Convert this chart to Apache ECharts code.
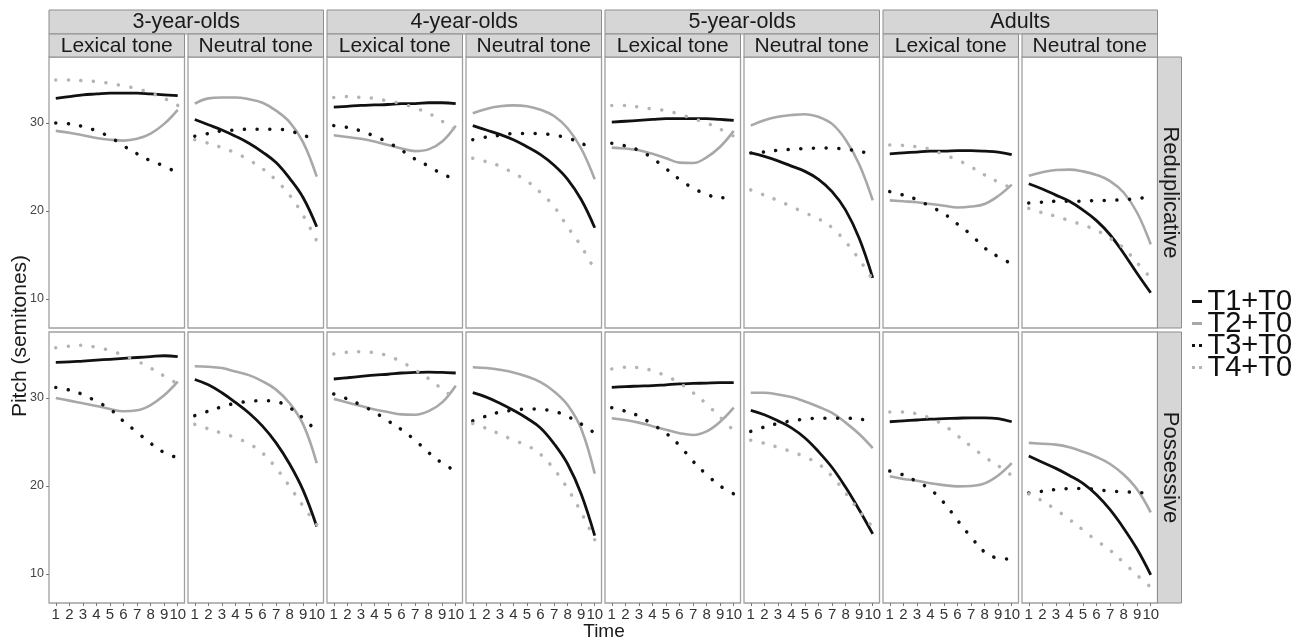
<!DOCTYPE html>
<html>
<head>
<meta charset="utf-8">
<script src="https://cdn.jsdelivr.net/npm/echarts@6/dist/echarts.min.js"></script>
<style>
html,body{margin:0;padding:0;background:#fff;}
#chart{width:1296px;height:642px;}
</style>
</head>
<body>
<div id="chart"></div>
<script>
// ---------- labels ----------
const ages = ['3-year-olds', '4-year-olds', '5-year-olds', 'Adults'];
const tones = ['Lexical tone', 'Neutral tone'];
const constructions = ['Reduplicative', 'Possessive'];
const times = ['1', '2', '3', '4', '5', '6', '7', '8', '9', '10'];
const yTicks = [10, 20, 30];
const seriesNames = ['T1+T0', 'T2+T0', 'T3+T0', 'T4+T0'];

// ---------- data: each panel = [T1+T0, T2+T0, T3+T0, T4+T0] ----------
// Reduplicative
const red3Lex = [
  [32.8, 33.0, 33.2, 33.3, 33.4, 33.4, 33.4, 33.3, 33.2, 33.1],
  [29.1, 28.9, 28.6, 28.3, 28.1, 28.0, 28.2, 28.8, 29.9, 31.5],
  [30.0, 29.9, 29.6, 29.1, 28.4, 27.4, 26.5, 25.7, 25.1, 24.3],
  [34.9, 34.9, 34.8, 34.7, 34.5, 34.2, 33.9, 33.4, 32.8, 32.0]
];
const red3Neu = [
  [30.4, 29.8, 29.2, 28.5, 27.7, 26.7, 25.5, 23.7, 21.5, 18.2],
  [32.2, 32.8, 32.9, 32.9, 32.7, 32.3, 31.4, 30.1, 27.8, 23.9],
  [28.5, 28.8, 29.1, 29.2, 29.3, 29.3, 29.3, 29.1, 28.6, 28.1],
  [28.1, 27.7, 27.2, 26.6, 25.8, 24.8, 23.5, 21.8, 19.5, 16.6]
];
const red4Lex = [
  [31.8, 31.9, 32.0, 32.05, 32.1, 32.2, 32.2, 32.3, 32.3, 32.2],
  [28.6, 28.4, 28.2, 27.9, 27.5, 27.1, 26.8, 27.0, 27.9, 29.7],
  [29.7, 29.5, 29.1, 28.5, 27.8, 26.9, 25.9, 25.1, 24.2, 23.6],
  [32.9, 33.0, 32.9, 32.8, 32.5, 32.2, 31.7, 31.1, 30.2, 29.2]
];
const red4Neu = [
  [29.7, 29.2, 28.7, 28.1, 27.3, 26.4, 25.2, 23.6, 21.3, 18.1],
  [31.1, 31.6, 31.9, 32.0, 31.9, 31.5, 30.8, 29.4, 27.1, 23.6],
  [28.1, 28.4, 28.6, 28.8, 28.8, 28.8, 28.6, 28.3, 27.7, 27.0],
  [26.0, 25.6, 25.1, 24.3, 23.4, 22.1, 20.5, 18.2, 16.0, 13.3]
];
const red5Lex = [
  [30.1, 30.2, 30.3, 30.4, 30.5, 30.5, 30.5, 30.5, 30.4, 30.3],
  [27.2, 27.1, 26.9, 26.5, 26.0, 25.5, 25.45, 26.1, 27.3, 29.1],
  [27.7, 27.4, 26.9, 26.0, 24.8, 23.6, 22.6, 21.9, 21.5, 21.6],
  [32.0, 32.0, 31.8, 31.6, 31.4, 31.0, 30.5, 30.0, 29.3, 28.5]
];
const red5Neu = [
  [26.6, 26.2, 25.7, 25.1, 24.5, 23.6, 22.2, 20.1, 16.9, 12.4],
  [29.7, 30.3, 30.7, 30.9, 31.0, 30.7, 29.9, 28.1, 25.3, 21.2],
  [26.6, 26.7, 26.9, 27.0, 27.1, 27.15, 27.15, 27.0, 26.8, 26.4],
  [22.4, 21.8, 21.2, 20.5, 19.8, 19.1, 18.1, 16.5, 14.5, 12.2]
];
const redAdLex = [
  [26.5, 26.6, 26.7, 26.8, 26.8, 26.85, 26.85, 26.8, 26.7, 26.4],
  [21.2, 21.1, 21.0, 20.8, 20.6, 20.4, 20.5, 20.8, 21.7, 23.0],
  [22.2, 21.8, 21.3, 20.5, 19.7, 18.5, 17.3, 15.8, 14.8, 14.0],
  [27.5, 27.45, 27.3, 27.0, 26.4, 25.8, 25.0, 24.1, 23.3, 22.6]
];
const redAdNeu = [
  [23.1, 22.5, 21.8, 21.1, 20.1, 18.9, 17.3, 15.2, 12.9, 10.7],
  [24.0, 24.4, 24.65, 24.7, 24.5, 24.1, 23.4, 22.1, 19.8, 16.2],
  [20.9, 21.0, 21.1, 21.1, 21.1, 21.2, 21.2, 21.3, 21.4, 21.65],
  [20.3, 19.8, 19.4, 18.9, 18.4, 17.8, 16.9, 15.8, 14.1, 12.4]
];
// Possessive
const pos3Lex = [
  [34.05, 34.1, 34.2, 34.3, 34.4, 34.5, 34.6, 34.7, 34.8, 34.7],
  [30.0, 29.7, 29.4, 29.1, 28.75, 28.5, 28.6, 29.2, 30.3, 31.85],
  [31.2, 30.9, 30.4, 29.6, 28.75, 27.35, 26.1, 24.85, 23.8, 23.2],
  [35.7, 35.9, 36.0, 35.75, 35.4, 34.85, 34.2, 33.4, 32.5, 31.6]
];
const pos3Neu = [
  [32.1, 31.5, 30.6, 29.5, 28.3, 26.8, 24.9, 22.5, 19.5, 15.4],
  [33.6, 33.55, 33.4, 33.0, 32.6, 31.9, 30.95, 29.4, 27.0, 22.6],
  [28.0, 28.5, 29.0, 29.4, 29.6, 29.7, 29.6, 28.9, 27.7, 26.2],
  [27.0, 26.5, 26.0, 25.5, 24.8, 23.75, 22.05, 19.95, 17.7, 15.6]
];
const pos4Lex = [
  [32.16, 32.3, 32.45, 32.6, 32.7, 32.84, 32.9, 32.95, 32.9, 32.84],
  [29.9, 29.5, 29.1, 28.7, 28.4, 28.14, 28.1, 28.5, 29.5, 31.4],
  [30.45, 29.9, 29.2, 28.4, 27.4, 26.4, 25.2, 23.8, 22.6, 21.7],
  [35.0, 35.2, 35.26, 35.15, 34.8, 34.1, 33.2, 32.2, 31.0, 29.9]
];
const pos4Neu = [
  [30.6, 30.1, 29.4, 28.6, 27.7, 26.6, 24.8, 22.5, 19.1, 14.35],
  [33.5, 33.4, 33.2, 32.9, 32.45, 31.8, 30.75, 29.2, 26.5, 21.4],
  [27.4, 27.95, 28.4, 28.6, 28.75, 28.7, 28.5, 27.9, 27.05, 26.0],
  [27.1, 26.55, 25.9, 25.2, 24.6, 23.6, 21.9, 19.7, 17.0, 13.9]
];
const pos5Lex = [
  [31.2, 31.3, 31.35, 31.4, 31.5, 31.6, 31.65, 31.7, 31.75, 31.75],
  [27.7, 27.5, 27.2, 26.8, 26.4, 26.0, 25.8, 26.2, 27.3, 28.9],
  [28.9, 28.5, 27.95, 27.0, 26.0, 24.6, 22.8, 21.3, 20.0, 19.1],
  [33.3, 33.5, 33.45, 33.1, 32.5, 31.7, 30.6, 29.3, 27.8, 26.3]
];
const pos5Neu = [
  [28.6, 28.1, 27.4, 26.6, 25.45, 23.9, 22.1, 19.85, 17.3, 14.55],
  [30.6, 30.6, 30.4, 30.1, 29.6, 29.0, 28.3, 27.2, 25.9, 24.3],
  [26.2, 26.7, 27.1, 27.4, 27.6, 27.7, 27.7, 27.7, 27.6, 27.35],
  [25.2, 24.85, 24.4, 23.9, 23.3, 22.5, 21.1, 19.2, 17.2, 15.3]
];
const posAdLex = [
  [27.3, 27.4, 27.5, 27.6, 27.65, 27.7, 27.75, 27.75, 27.65, 27.3],
  [21.1, 20.8, 20.6, 20.3, 20.1, 19.95, 20.0, 20.3, 21.2, 22.6],
  [21.7, 21.25, 20.5, 19.6, 18.1, 16.1, 14.2, 12.5, 11.8, 11.7],
  [28.4, 28.4, 28.2, 27.7, 26.9, 25.7, 24.5, 23.3, 22.3, 21.2]
];
const posAdNeu = [
  [23.4, 22.7, 22.0, 21.2, 20.3, 19.0, 17.3, 15.2, 12.8, 9.9],
  [24.9, 24.8, 24.7, 24.4, 23.9, 23.3, 22.5, 21.3, 19.6, 17.0],
  [19.2, 19.4, 19.6, 19.7, 19.7, 19.6, 19.4, 19.35, 19.25, 19.2],
  [19.1, 18.3, 17.3, 16.2, 15.0, 13.8, 12.7, 11.3, 9.85, 8.5]
];

const panels = [
  [red3Lex, red3Neu, red4Lex, red4Neu, red5Lex, red5Neu, redAdLex, redAdNeu],
  [pos3Lex, pos3Neu, pos4Lex, pos4Neu, pos5Lex, pos5Neu, posAdLex, posAdNeu]
];

// ---------- layout / style ----------
const FONT = '"Liberation Sans", Arial, Helvetica, sans-serif';
const colLeft = c => 49 + 139 * c;
const colW = 135.5;
const rowTop = [57, 332];
const rowH = 271;
const yMin = 6.7, yMax = 37.5;
const stripFill = '#d6d6d6', stripStroke = '#8d8d8d';
const lineStyles = [
  { color: '#111111', width: 2.8 },
  { color: '#a8a8a8', width: 2.6 },
  { color: '#111111', width: 3.5, type: [0.1, 12.5], cap: 'round' },
  { color: '#b4b4b4', width: 3.5, type: [0.1, 12.5], cap: 'round' }
];

const grids = [], xAxes = [], yAxes = [], series = [];
for (let r = 0; r < 2; r++) {
  for (let c = 0; c < 8; c++) {
    const idx = r * 8 + c;
    grids.push({
      left: colLeft(c), top: rowTop[r], width: colW, height: rowH,
      show: true, backgroundColor: '#ffffff', borderColor: '#a0a0a0', borderWidth: 1.3
    });
    xAxes.push({
      type: 'category', gridIndex: idx, data: times, boundaryGap: true,
      axisLine: { show: false },
      axisTick: { show: r === 1, alignWithLabel: true, length: 3, lineStyle: { color: '#777' } },
      axisLabel: { show: r === 1, interval: 0, fontSize: 15, color: '#333', margin: 4, fontFamily: FONT },
      splitLine: { show: false }
    });
    yAxes.push({
      type: 'value', gridIndex: idx, min: yMin, max: yMax,
      axisLine: { show: false }, splitLine: { show: false },
      axisTick: { show: c === 0, length: 3, customValues: yTicks, lineStyle: { color: '#777' } },
      axisLabel: { show: c === 0, customValues: yTicks, fontSize: 12.5, color: '#444', margin: 5, fontFamily: FONT }
    });
    for (let s = 0; s < 4; s++) {
      series.push({
        type: 'line', name: seriesNames[s],
        xAxisIndex: idx, yAxisIndex: idx,
        data: panels[r][c][s],
        smooth: 0.4, showSymbol: false, symbol: 'none', silent: true,
        lineStyle: Object.assign({}, lineStyles[s]),
        itemStyle: { color: lineStyles[s].color },
        z: 2 + s
      });
    }
  }
}

// ---------- strips and titles ----------
const graphics = [];
function txt(x, y, text, size, rot) {
  return {
    type: 'text', x: x, y: y, rotation: rot || 0, silent: true, z: 10,
    style: {
      text: text, fontSize: size, fontFamily: FONT, fill: '#1a1a1a',
      align: 'center', verticalAlign: 'middle', textAlign: 'center', textVerticalAlign: 'middle'
    }
  };
}
function rect(x, y, w, h) {
  return {
    type: 'rect', silent: true, z: 5,
    shape: { x: x, y: y, width: w, height: h },
    style: { fill: stripFill, stroke: stripStroke, lineWidth: 1 }
  };
}
for (let g = 0; g < 4; g++) {
  const x0 = colLeft(2 * g), x1 = colLeft(2 * g + 1) + colW;
  graphics.push(rect(x0, 10, x1 - x0, 24));
  graphics.push(txt((x0 + x1) / 2, 22.5, ages[g], 21.5));
}
for (let c = 0; c < 8; c++) {
  graphics.push(rect(colLeft(c), 34, colW, 23));
  graphics.push(txt(colLeft(c) + colW / 2, 46, tones[c % 2], 21));
}
const stripX = colLeft(7) + colW;
for (let r = 0; r < 2; r++) {
  graphics.push(rect(stripX, rowTop[r], 24, rowH));
  graphics.push(txt(stripX + 12.5, rowTop[r] + rowH / 2, constructions[r], 22, -Math.PI / 2));
}
graphics.push(txt(20, 336, 'Pitch (semitones)', 21, Math.PI / 2));
graphics.push(txt(604, 632, 'Time', 19));

const dash = 'path://M0,0H10V3H0Z';
const dots = 'path://M0,0H3V3H0ZM7,0H10V3H7Z';

const chart = echarts.init(document.getElementById('chart'), null, { renderer: 'canvas' });
chart.setOption({
  animation: false,
  backgroundColor: '#ffffff',
  grid: grids,
  xAxis: xAxes,
  yAxis: yAxes,
  series: series,
  graphic: { elements: graphics },
  legend: {
    orient: 'vertical', left: 1192, top: 287, padding: 0,
    itemWidth: 11, itemHeight: 3, itemGap: -7, selectedMode: false,
    textStyle: { fontSize: 29, lineHeight: 21, color: '#111', fontFamily: FONT },
    data: [
      { name: seriesNames[0], icon: dash },
      { name: seriesNames[1], icon: dash },
      { name: seriesNames[2], icon: dots },
      { name: seriesNames[3], icon: dots }
    ]
  }
});
</script>
</body>
</html>
